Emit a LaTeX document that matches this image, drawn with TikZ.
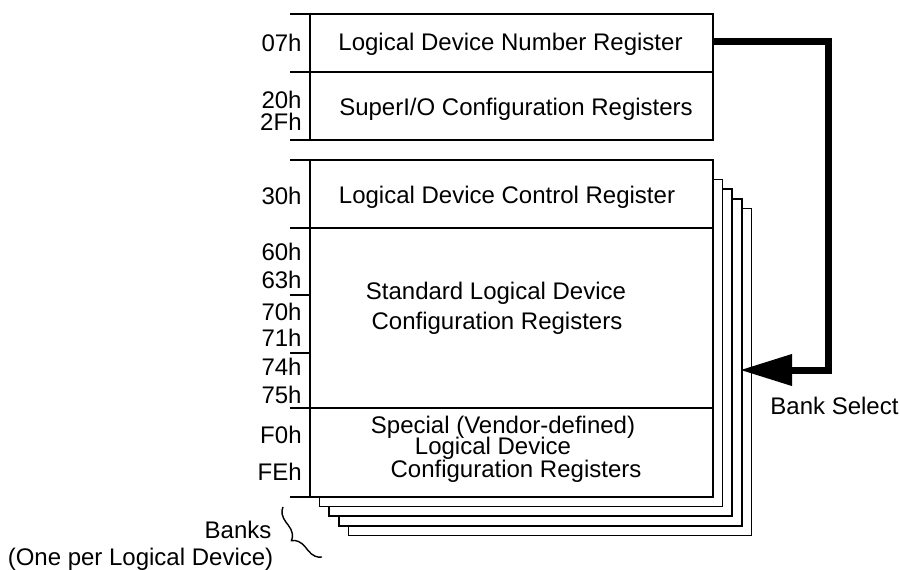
\documentclass[tikz,border=0pt]{standalone}
\usepackage{fontspec}
\setmainfont{Liberation Sans}
\usetikzlibrary{arrows.meta,decorations.pathreplacing}
\begin{document}
\begin{tikzpicture}[x=0.5pt,y=-0.5pt,
  frame/.style={line width=0.8pt},
  sheet/.style={frame, fill=white},
  txt/.style={font=\fontsize{12}{14}\selectfont, inner sep=0pt, text height=8.6pt, text depth=0pt},
  hex/.style={txt, anchor=east},
  selarrow/.style={line width=3.5pt, -{Triangle[length=26pt,width=15pt]}},
  bracestyle/.style={line width=0.7pt, decorate, decoration={brace, amplitude=7pt}}]
\useasboundingbox (0,0) rectangle (900,569);
% stacked banks (back to front)
\foreach \k in {4,3,2,1}{
  \draw[sheet] ({310+9.6*\k},{170+9.6*\k}) rectangle ({713+9.6*\k},{497+9.6*\k});
}
% front bank
\draw[sheet] (310,160) rectangle (713,497);
\draw[frame] (290,160) -- (713,160);
\draw[frame] (290,228) -- (713,228);
\draw[frame] (290,295) -- (310,295);
\draw[frame] (290,353) -- (310,353);
\draw[frame] (290,408) -- (713,408);
\draw[frame] (290,497) -- (713,497);
% top register block
\draw[frame] (310,14) rectangle (713,140);
\draw[frame] (290,14) -- (713,14);
\draw[frame] (290,72) -- (713,72);
\draw[frame] (290,140) -- (713,140);
% register texts
\node[txt] (ldnT) at (510.5,42) {Logical Device Number Register};
\node[txt] (sioT) at (516,107) {SuperI/O Configuration Registers};
\node[txt] (ldcT) at (507,195) {Logical Device Control Register};
\node[txt] (stdA) at (496,291) {Standard Logical Device};
\node[txt] (stdB) at (497,321) {Configuration Registers};
\node[txt] (spA) at (503,425) {Special (Vendor-defined)};
\node[txt] (spB) at (493,446) {Logical Device};
\node[txt] (spC) at (516,469) {Configuration Registers};
% address labels
\node[hex] (h07) at (302,42.5) {07h};
\node[hex] (h20) at (302,99.5) {20h};
\node[hex] (h2F) at (302,122) {2Fh};
\node[hex] (h30) at (302,196) {30h};
\node[hex] (h60) at (302,252) {60h};
\node[hex] (h63) at (302,280) {63h};
\node[hex] (h70) at (302,312) {70h};
\node[hex] (h71) at (302,338) {71h};
\node[hex] (h74) at (302,367) {74h};
\node[hex] (h75) at (302,395) {75h};
\node[hex] (hF0) at (302,435) {F0h};
\node[hex] (hFE) at (302,472) {FEh};
% bank select arrow
\coordinate (selfrom) at (713,41.5);
\coordinate (selturn) at (828.5,41.5);
\coordinate (selto) at (740,370);
\draw[selarrow] (selfrom) -- (selturn) |- (selto);
\node[txt] (bsel) at (834.5,406) {Bank Select};
% banks brace
\coordinate (braceA) at (322,557);
\coordinate (braceB) at (283,507);
\draw[bracestyle] (braceA) -- (braceB);
\node[txt] (banks) at (238,530) {Banks};
\node[txt] (oneper) at (140.5,557) {(One per Logical Device)};
\end{tikzpicture}
\end{document}
